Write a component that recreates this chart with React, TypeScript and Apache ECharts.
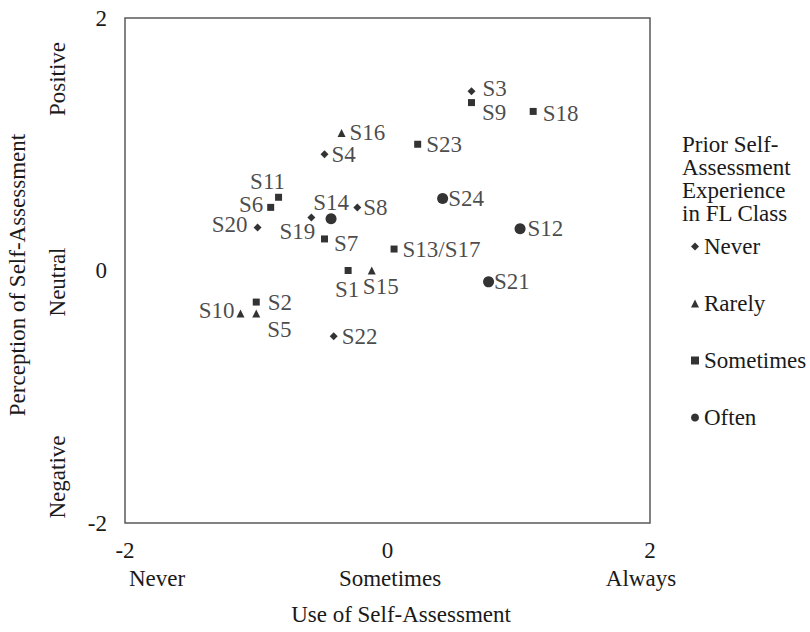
import React, { useEffect, useRef } from "react";
import * as echarts from "echarts";

// ---- data ----
const groupNames = ["Never", "Rarely", "Sometimes", "Often"];

const neverNames = ["S3", "S4", "S8", "S19", "S20", "S22"];
const neverX = [0.64, -0.48, -0.23, -0.58, -0.99, -0.41];
const neverY = [1.42, 0.92, 0.5, 0.42, 0.34, -0.52];

const rarelyNames = ["S16", "S15", "S10", "S5"];
const rarelyX = [-0.35, -0.12, -1.12, -1.0];
const rarelyY = [1.09, 0.0, -0.34, -0.34];

const sometimesNames = ["S9", "S18", "S23", "S11", "S6", "S7", "S13/S17", "S1", "S2"];
const sometimesX = [0.64, 1.11, 0.23, -0.83, -0.89, -0.48, 0.05, -0.3, -1.0];
const sometimesY = [1.33, 1.26, 1.0, 0.58, 0.5, 0.25, 0.17, 0.0, -0.25];

const oftenNames = ["S24", "S12", "S14", "S21"];
const oftenX = [0.42, 1.01, -0.43, 0.77];
const oftenY = [0.57, 0.33, 0.41, -0.09];

const xTickLabels = ["Never", "Sometimes", "Always"];
const yTickLabels = ["Negative", "Neutral", "Positive"];

// ---- label placement (style only) ----
const labelLayout: Record<string, { position: string; distance: number; offset: number[] }> = {
  S3: { position: "right", distance: 7, offset: [0, -3] },
  S4: { position: "right", distance: 3, offset: [0, 0] },
  S8: { position: "right", distance: 2, offset: [0, 0] },
  S19: { position: "bottom", distance: 5, offset: [-14, -5] },
  S20: { position: "left", distance: 6, offset: [0, -3] },
  S22: { position: "right", distance: 4, offset: [0, 0] },
  S16: { position: "right", distance: 4, offset: [0, 0] },
  S15: { position: "bottom", distance: 5, offset: [9, -3] },
  S10: { position: "left", distance: 2, offset: [0, -3] },
  S5: { position: "right", distance: 7, offset: [0, 16] },
  S9: { position: "right", distance: 7, offset: [0, 10] },
  S18: { position: "right", distance: 6, offset: [0, 2] },
  S23: { position: "right", distance: 5, offset: [0, 0] },
  S11: { position: "top", distance: 5, offset: [-11, 3] },
  S6: { position: "left", distance: 4, offset: [0, -3] },
  S7: { position: "right", distance: 6, offset: [0, 5] },
  "S13/S17": { position: "right", distance: 5, offset: [0, 0] },
  S1: { position: "bottom", distance: 5, offset: [-1, 0] },
  S2: { position: "right", distance: 8, offset: [0, 0] },
  S24: { position: "right", distance: 0, offset: [0, 0] },
  S12: { position: "right", distance: 2, offset: [0, 0] },
  S14: { position: "top", distance: 5, offset: [0, 4] },
  S21: { position: "right", distance: 0, offset: [0, 0] },
};

const FONT = "'Liberation Serif', 'Times New Roman', serif";
const FS = 23;
const TXT = "#1a1a1a";

function build(names: string[], xs: number[], ys: number[]) {
  return names.map((n, i) => {
    const l = labelLayout[n];
    return {
      name: n,
      value: [xs[i], ys[i]],
      label: { position: l.position, distance: l.distance, offset: l.offset },
    };
  });
}

export default function App() {
  const ref = useRef<HTMLDivElement>(null);
  useEffect(() => {
    if (!ref.current) return;
    const chart = echarts.init(ref.current, undefined, { renderer: "svg" });
    const labelBase = {
      show: true,
      formatter: "{b}",
      fontFamily: FONT,
      fontSize: FS,
      lineHeight: 20,
      color: TXT,
    };
    const series = [
      { name: groupNames[0], symbol: "diamond", symbolSize: 8, data: build(neverNames, neverX, neverY) },
      { name: groupNames[1], symbol: "triangle", symbolSize: 8, data: build(rarelyNames, rarelyX, rarelyY) },
      { name: groupNames[2], symbol: "rect", symbolSize: 7, data: build(sometimesNames, sometimesX, sometimesY) },
      { name: groupNames[3], symbol: "circle", symbolSize: 11, data: build(oftenNames, oftenX, oftenY) },
    ].map((s) => ({
      type: "scatter",
      ...s,
      itemStyle: { color: "#000" },
      label: labelBase,
      emphasis: { disabled: true },
    }));

    const textStyle = { fontFamily: FONT, fontSize: FS, fill: TXT };

    chart.setOption({
      animation: false,
      backgroundColor: "#fff",
      grid: {
        left: 125,
        top: 18,
        width: 525,
        height: 505,
        show: true,
        borderColor: "#595959",
        borderWidth: 1.5,
        backgroundColor: "transparent",
      },
      xAxis: {
        type: "value",
        min: -2,
        max: 2,
        interval: 2,
        axisLine: { show: false },
        axisTick: { show: false },
        splitLine: { show: false },
        axisLabel: { margin: 16, fontFamily: FONT, fontSize: FS, color: TXT },
      },
      yAxis: {
        type: "value",
        min: -2,
        max: 2,
        interval: 2,
        axisLine: { show: false },
        axisTick: { show: false },
        splitLine: { show: false },
        axisLabel: { margin: 18, fontFamily: FONT, fontSize: FS, color: TXT },
      },
      legend: {
        orient: "vertical",
        left: 686,
        top: 230,
        itemGap: 34,
        itemWidth: 8,
        itemHeight: 8,
        selectedMode: false,
        textStyle: { fontFamily: FONT, fontSize: FS, color: TXT, lineHeight: 23 },
        data: [
          { name: groupNames[0], icon: "diamond" },
          { name: groupNames[1], icon: "triangle" },
          { name: groupNames[2], icon: "rect" },
          { name: groupNames[3], icon: "circle" },
        ],
      },
      graphic: [
        {
          type: "text",
          left: 682,
          top: 133,
          style: { ...textStyle, text: "Prior Self-\nAssessment\nExperience\nin FL Class", lineHeight: 23 },
        },
        { type: "text", x: 157, y: 578, style: { ...textStyle, text: xTickLabels[0], align: "center", verticalAlign: "middle" } },
        { type: "text", x: 390, y: 578, style: { ...textStyle, text: xTickLabels[1], align: "center", verticalAlign: "middle" } },
        { type: "text", x: 641, y: 578, style: { ...textStyle, text: xTickLabels[2], align: "center", verticalAlign: "middle" } },
        { type: "text", x: 401, y: 614, style: { ...textStyle, text: "Use of Self-Assessment", align: "center", verticalAlign: "middle" } },
        { type: "text", x: 57, y: 477, rotation: Math.PI / 2, style: { ...textStyle, text: yTickLabels[0], align: "center", verticalAlign: "middle" } },
        { type: "text", x: 57, y: 282, rotation: Math.PI / 2, style: { ...textStyle, text: yTickLabels[1], align: "center", verticalAlign: "middle" } },
        { type: "text", x: 57, y: 79, rotation: Math.PI / 2, style: { ...textStyle, text: yTickLabels[2], align: "center", verticalAlign: "middle" } },
        { type: "text", x: 17, y: 275, rotation: Math.PI / 2, style: { ...textStyle, text: "Perception of Self-Assessment", align: "center", verticalAlign: "middle" } },
      ],
      series,
    });
    return () => chart.dispose();
  }, []);
  return <div ref={ref} style={{ position: "absolute", left: 0, top: 0, width: 810, height: 632 }} />;
}
